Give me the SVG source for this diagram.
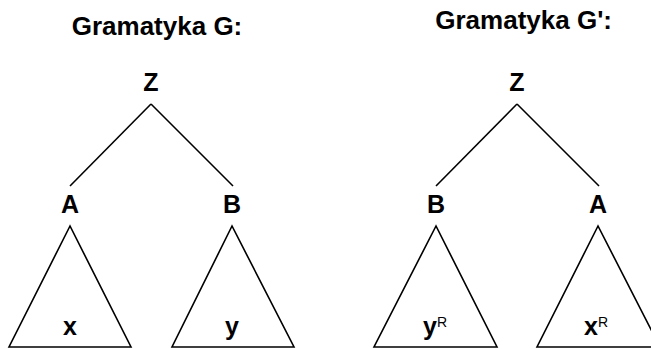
<svg xmlns="http://www.w3.org/2000/svg" width="651" height="349" viewBox="0 0 651 349">
<style>
text{font-family:"Liberation Sans",Arial,sans-serif;font-weight:bold;fill:#000;text-anchor:middle}
.t{font-size:26px}
.n{font-size:25px}
.l{font-size:25px}
.sup{font-size:14px;font-weight:normal}
line,polygon{stroke:#000;stroke-width:1.6;fill:none}
</style>
<rect width="651" height="349" fill="#fff"/>
<text class="t" x="157" y="35">Gramatyka G:</text>
<text class="t" x="612" y="29" style="text-anchor:end">Gramatyka G':</text>
<g id="connectors">
<line x1="151" y1="104" x2="70" y2="186"/>
<line x1="151" y1="104" x2="233" y2="186"/>
<line x1="517" y1="104" x2="436" y2="186"/>
<line x1="517" y1="104" x2="599" y2="186"/>
</g>
<g id="Z1"><text class="n" x="151" y="91">Z</text></g>
<g id="A1"><text class="n" x="70" y="213">A</text></g>
<g id="B1"><text class="n" x="232" y="213">B</text></g>
<g id="Z2"><text class="n" x="517" y="91">Z</text></g>
<g id="B2"><text class="n" x="436" y="213">B</text></g>
<g id="A2"><text class="n" x="598" y="213">A</text></g>
<g id="T1"><polygon points="70,226 9,347 131,347"/><text class="l" x="70" y="335">x</text></g>
<g id="T2"><polygon points="232,226 172,347 294,347"/><text class="l" x="232" y="335">y</text></g>
<g id="T3"><polygon points="436,226 374,347 497,347"/><text class="l" x="433" y="335" style="text-anchor:start"><tspan x="423">y</tspan><tspan class="sup" dy="-8">R</tspan></text></g>
<g id="T4"><polygon points="598,226 537,347 660,347"/><text class="l" y="335" style="text-anchor:start"><tspan x="584">x</tspan><tspan class="sup" dy="-8">R</tspan></text></g>
</svg>
